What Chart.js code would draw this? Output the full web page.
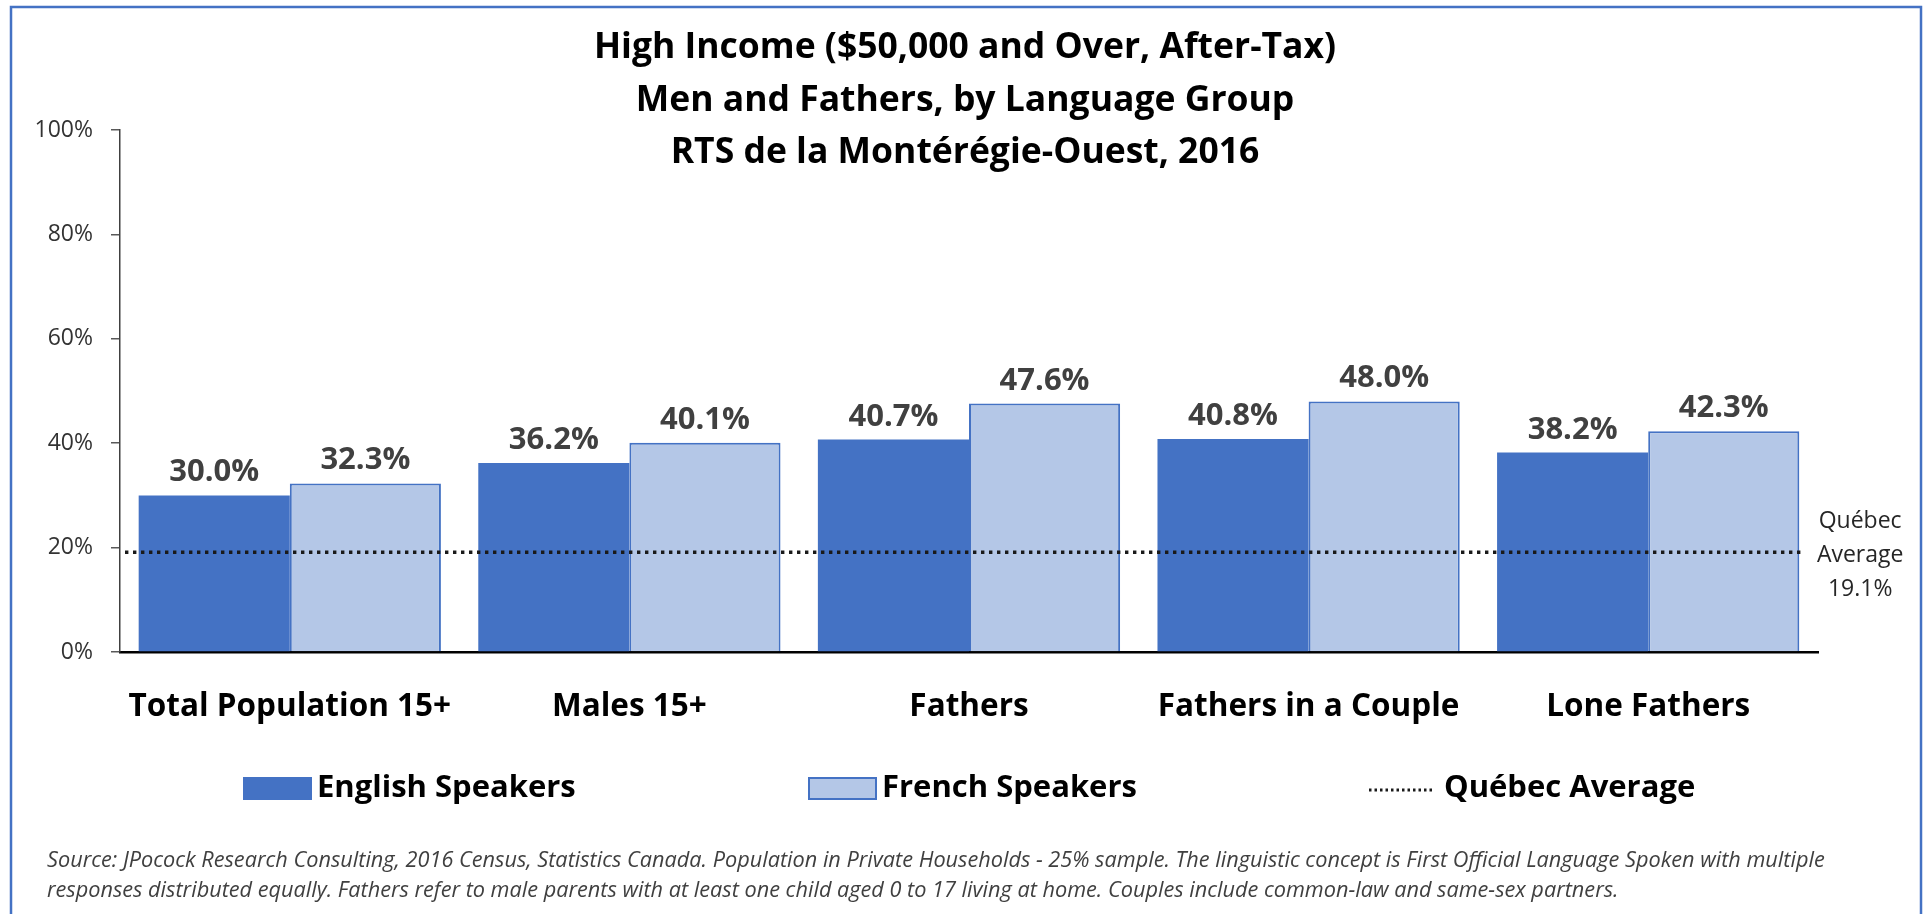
<!DOCTYPE html>
<html>
<head>
<meta charset="utf-8">
<script src="https://cdn.jsdelivr.net/npm/chart.js@4.4.1/dist/chart.umd.min.js"></script>
<style>
  html, body { margin: 0; padding: 0; background: #fff; overflow: hidden; }
  #wrap { width: 1929px; height: 914px; }
</style>
</head>
<body>
<div id="wrap"><canvas id="chart" width="1929" height="914"></canvas></div>
<script>
// chart data
var categories = ['Total Population 15+', 'Males 15+', 'Fathers', 'Fathers in a Couple', 'Lone Fathers'];
var englishValues = [30.0, 36.2, 40.7, 40.8, 38.2];
var frenchValues = [32.3, 40.1, 47.6, 48.0, 42.3];
var quebecAverage = 19.1;
var seriesNames = ['English Speakers', 'French Speakers'];
var averageName = 'Québec Average';
var averageLines = ['Québec', 'Average'];
var yTickValues = [0, 20, 40, 60, 80, 100];
var titleLines = [
    'High Income ($50,000 and Over, After-Tax)',
    'Men and Fathers, by Language Group',
    'RTS de la Montérégie-Ouest, 2016'
];
var sourceLines = [
    'Source: JPocock Research Consulting, 2016 Census, Statistics Canada. Population in Private Households - 25% sample. The linguistic concept is First Official Language Spoken with multiple',
    'responses distributed equally. Fathers refer to male parents with at least one child aged 0 to 17 living at home. Couples include common-law and same-sex partners.'
];

var BLUE = '#4472C4';
var LIGHT = '#B4C7E7';
var FONT = '"Open Sans"';

function pct(v) {
    return v.toFixed(1) + '%';
}

// frame, title and source text
var decorPlugin = {
    id: 'decor',
    beforeDraw: function (chart) {
        var ctx = chart.ctx;
        ctx.save();
        ctx.fillStyle = '#fff';
        ctx.fillRect(0, 0, chart.width, chart.height);
        ctx.strokeStyle = BLUE;
        ctx.lineWidth = 2.5;
        ctx.strokeRect(11, 7, 1910, 1000);
        ctx.restore();
    },
    afterDraw: function (chart) {
        var ctx = chart.ctx;
        ctx.save();
        ctx.fillStyle = '#000';
        ctx.textAlign = 'center';
        ctx.textBaseline = 'alphabetic';
        ctx.font = 'bold 35.5px ' + FONT;
        titleLines.forEach(function (line, i) {
            ctx.fillText(line, 965, 58 + i * 52.5);
        });
        ctx.fillStyle = '#404040';
        ctx.textAlign = 'left';
        ctx.font = 'italic 21.7px ' + FONT;
        sourceLines.forEach(function (line, i) {
            ctx.fillText(line, 47, 867 + i * 30);
        });
        ctx.restore();
    }
};

// value labels, average line and its label
var marksPlugin = {
    id: 'marks',
    afterDatasetsDraw: function (chart) {
        var ctx = chart.ctx;
        var y = chart.scales.y;
        var area = chart.chartArea;
        ctx.save();
        ctx.fillStyle = '#404040';
        ctx.font = 'bold 31px ' + FONT;
        ctx.textAlign = 'center';
        ctx.textBaseline = 'alphabetic';
        var lastRight = area.right;
        chart.data.datasets.forEach(function (ds, di) {
            var meta = chart.getDatasetMeta(di);
            meta.data.forEach(function (bar, i) {
                ctx.fillText(pct(ds.data[i]), bar.x, bar.y - 14);
                lastRight = bar.x + bar.width / 2;
            });
        });

        var ly = y.getPixelForValue(quebecAverage);
        ctx.strokeStyle = '#1a1a1a';
        ctx.lineWidth = 3.4;
        ctx.setLineDash([3.4, 4.6]);
        ctx.beginPath();
        ctx.moveTo(area.left + 5, ly);
        ctx.lineTo(lastRight + 2, ly);
        ctx.stroke();
        ctx.setLineDash([]);

        ctx.fillStyle = '#262626';
        ctx.font = '23px ' + FONT;
        var lx = (lastRight + 1921) / 2;
        var labels = averageLines.concat([pct(quebecAverage)]);
        labels.forEach(function (t, i) {
            ctx.fillText(t, lx, ly - 24 + i * 34);
        });
        ctx.restore();
    }
};

// legend
var legendPlugin = {
    id: 'customLegend',
    afterDraw: function (chart) {
        var ctx = chart.ctx;
        var cy = 788;
        ctx.save();
        ctx.font = 'bold 31px ' + FONT;
        ctx.textBaseline = 'middle';
        ctx.textAlign = 'left';
        var items = [
            { x: 243, fill: BLUE, border: BLUE, text: seriesNames[0] },
            { x: 808, fill: LIGHT, border: BLUE, text: seriesNames[1] }
        ];
        items.forEach(function (it) {
            ctx.fillStyle = it.fill;
            ctx.fillRect(it.x, cy - 11, 69, 23);
            ctx.strokeStyle = it.border;
            ctx.lineWidth = 2;
            ctx.strokeRect(it.x + 1, cy - 10, 67, 21);
            ctx.fillStyle = '#000';
            ctx.fillText(it.text, it.x + 74, cy);
        });
        ctx.strokeStyle = '#1a1a1a';
        ctx.lineWidth = 3;
        ctx.setLineDash([2.5, 3]);
        ctx.beginPath();
        ctx.moveTo(1369, cy + 2);
        ctx.lineTo(1435, cy + 2);
        ctx.stroke();
        ctx.setLineDash([]);
        ctx.fillStyle = '#000';
        ctx.fillText(averageName, 1444, cy);
        ctx.restore();
    }
};

function draw() {
    var ctx = document.getElementById('chart');
    new Chart(ctx, {
        type: 'bar',
        data: {
            labels: categories,
            datasets: [
                {
                    label: seriesNames[0],
                    data: englishValues,
                    backgroundColor: BLUE,
                    borderWidth: 0
                },
                {
                    label: seriesNames[1],
                    data: frenchValues,
                    backgroundColor: LIGHT,
                    borderColor: BLUE,
                    borderWidth: 2
                }
            ]
        },
        options: {
            responsive: false,
            animation: false,
            devicePixelRatio: 1,
            layout: { padding: { top: 130, right: 111, left: 0, bottom: 182 } },
            datasets: {
                bar: { categoryPercentage: 0.89, barPercentage: 1.0 }
            },
            plugins: {
                legend: { display: false },
                title: { display: false },
                tooltip: { enabled: false }
            },
            scales: {
                x: {
                    afterFit: function (scale) { scale.height = 80; },
                    grid: { display: false, drawTicks: false },
                    border: { display: true, color: '#000', width: 2.5 },
                    ticks: {
                        color: '#000',
                        padding: 36,
                        font: { family: FONT, size: 31.5, weight: 'bold' }
                    }
                },
                y: {
                    min: 0,
                    max: 100,
                    afterFit: function (scale) { scale.width = 120; },
                    afterBuildTicks: function (scale) {
                        scale.ticks = yTickValues.map(function (v) { return { value: v }; });
                    },
                    grid: {
                        drawOnChartArea: false,
                        drawTicks: true,
                        tickLength: 9,
                        color: '#595959',
                        lineWidth: 1.5
                    },
                    border: { display: true, color: '#404040', width: 1.5 },
                    ticks: {
                        color: '#333',
                        padding: 18,
                        font: { family: FONT, size: 23 },
                        callback: function (v) { return v + '%'; }
                    }
                }
            }
        },
        plugins: [decorPlugin, marksPlugin, legendPlugin]
    });
}

if (document.fonts && document.fonts.load) {
    Promise.all([
        document.fonts.load('bold 20px "Open Sans"'),
        document.fonts.load('20px "Open Sans"'),
        document.fonts.load('italic 20px "Open Sans"')
    ]).then(draw, draw);
} else {
    draw();
}
</script>
</body>
</html>
